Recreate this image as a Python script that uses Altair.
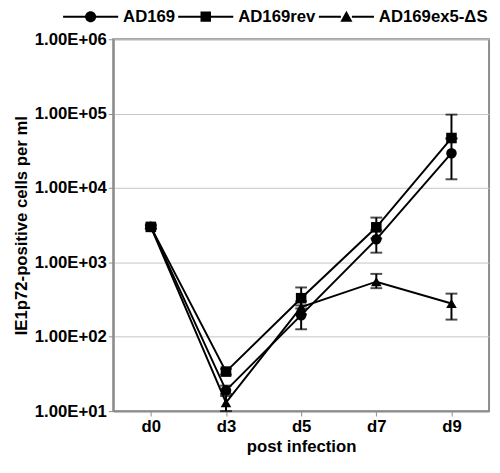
import altair as alt
import pandas as pd

days = ["d0", "d3", "d5", "d7", "d9"]
series_names = ["AD169", "AD169rev", "AD169ex5-ΔS"]

ad169 = [3000, 19, 195, 2040, 29400]
ad169_lo = [2850, 17, 126, 1350, 13100]
ad169_hi = [3150, 22, 264, 2730, 45700]

ad169rev = [3000, 34, 330, 2960, 47000]
ad169rev_lo = [2800, 31, 240, 2100, 47000]
ad169rev_hi = [3250, 37, 460, 4000, 97000]

ad169ex5 = [3000, 13, 250, 550, 280]
ad169ex5_lo = [2900, 10, 200, 450, 170]
ad169ex5_hi = [3100, 16, 300, 700, 380]

y_ticks = [1e1, 1e2, 1e3, 1e4, 1e5, 1e6]

rows = []
for name, vals, lo, hi in [
    (series_names[0], ad169, ad169_lo, ad169_hi),
    (series_names[1], ad169rev, ad169rev_lo, ad169rev_hi),
    (series_names[2], ad169ex5, ad169ex5_lo, ad169ex5_hi),
]:
    for d, v, l, h in zip(days, vals, lo, hi):
        rows.append({"day": d, "series": name, "value": v, "lo": l, "hi": h})
df = pd.DataFrame(rows)

FONT = "Liberation Sans"

x_enc = alt.X("day:N", sort=days, scale=alt.Scale(type="point", padding=0.5),
              axis=alt.Axis(title="post infection", labelAngle=0))
y_scale = alt.Scale(type="log", domain=[10, 1e6], nice=False)
y_enc = alt.Y("value:Q", scale=y_scale,
              axis=alt.Axis(title="IE1p72-positive cells per ml", values=y_ticks,
                            labelExpr="'1.00E+0' + round(log(datum.value) / LN10)",
                            grid=True))

base = alt.Chart(df)

lines = base.mark_line(color="black", strokeWidth=2).encode(
    x=x_enc, y=y_enc, detail="series:N"
)

rules = base.mark_rule(color="black", strokeWidth=2).encode(
    x=x_enc, y=alt.Y("lo:Q", scale=y_scale), y2="hi:Q"
)
caps_lo = base.mark_tick(color="black", thickness=2, size=12, orient="horizontal").encode(
    x=x_enc, y=alt.Y("lo:Q", scale=y_scale)
)
caps_hi = base.mark_tick(color="black", thickness=2, size=12, orient="horizontal").encode(
    x=x_enc, y=alt.Y("hi:Q", scale=y_scale)
)

points = base.mark_point(filled=True, color="black", opacity=1).encode(
    x=x_enc, y=y_enc,
    shape=alt.Shape("series:N", scale=alt.Scale(domain=series_names,
                                                range=["circle", "square", "triangle-up"]),
                    legend=None),
    size=alt.Size("series:N", scale=alt.Scale(domain=series_names, range=[115, 115, 165]),
                  legend=None),
)

# legend glyphs: a short line with the marker in its middle (unit = 28 px)
legend_paths = [
    "M-1,-0.036H-0.18V0.036H-1ZM0.18,-0.036H1V0.036H0.18Z"
    "M-0.2,0A0.2,0.2,0,1,1,0.2,0A0.2,0.2,0,1,1,-0.2,0Z",
    "M-1,-0.036H1V0.036H-1Z"
    "M-0.19,-0.19H0.19V0.19H-0.19Z",
    "M-1,-0.036H-0.2V0.036H-1ZM0.2,-0.036H1V0.036H0.2Z"
    "M-0.22,0.19L0,-0.21L0.22,0.19Z",
]

legend_layer = base.mark_point(filled=True, color="black", opacity=0).encode(
    x=x_enc, y=y_enc,
    shape=alt.Shape("series:N", scale=alt.Scale(domain=series_names, range=legend_paths),
                    legend=alt.Legend(title=None, orient="none", direction="horizontal",
                                      legendX=-51, legendY=-51,
                                      symbolSize=3136, symbolStrokeWidth=0,
                                      symbolFillColor="black", symbolStrokeColor="black",
                                      symbolOpacity=1, columnPadding=3, labelOffset=5,
                                      labelFont=FONT, labelFontWeight="bold",
                                      labelFontSize=17, labelColor="black", labelLimit=300)),
)

chart = alt.layer(lines, rules, caps_lo, caps_hi, points, legend_layer).resolve_scale(
    shape="independent", size="independent"
).properties(
    width=382, height=378, autosize="none",
    padding={"left": 107, "top": 28, "right": 3, "bottom": 51},
).configure_view(
    stroke="#8c8c8c", strokeWidth=2
).configure_axis(
    labelFont=FONT, labelFontWeight="bold", labelFontSize=17, labelColor="black",
    titleFont=FONT, titleFontWeight="bold", titleFontSize=17, titleColor="black",
    domainColor="#8c8c8c", domainWidth=2, tickColor="#8c8c8c", tickSize=5,
    gridColor="#c4c4c4", gridWidth=1,
).configure_axisY(
    labelPadding=2, titlePadding=4,
).configure_axisX(
    labelPadding=3, titlePadding=4, grid=False,
)

chart.save("out.html", embed_options={"renderer": "svg", "actions": False})
